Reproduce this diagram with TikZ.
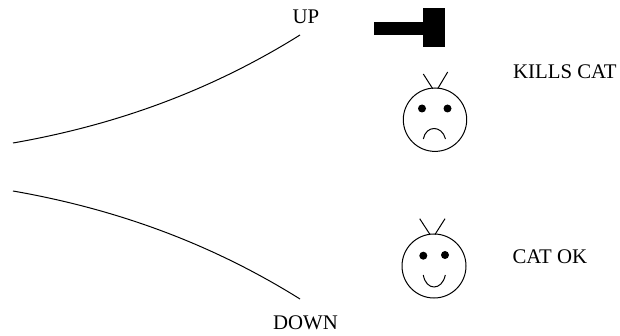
\documentclass[tikz,border=0pt]{standalone}
\usepackage{fontspec}
\setmainfont{Liberation Serif}
\begin{document}
\begin{tikzpicture}[x=1pt,y=-1pt,
  lab/.style={inner sep=0pt,font=\fontsize{20.8}{24}\selectfont},
  ln/.style={line width=1pt,draw=black},
  eye/.style={fill=black,draw=none}]
\useasboundingbox (0,0) rectangle (620,336);
\node[lab] (up) at (306,17) {UP};
\node[lab] (down) at (305.5,322.3) {DOWN};
\node[lab,anchor=west] (kills) at (513,71.7) {KILLS CAT};
\node[lab,anchor=west] (ok) at (512.3,256.7) {CAT OK};
\coordinate (u0) at (13,143);
\coordinate (u1) at (300,35);
\coordinate (d0) at (13,191);
\coordinate (d1) at (300,299);
\draw[ln] (u0) .. controls (108,126.4) and (205,94.4) .. (u1);
\draw[ln] (d0) .. controls (108,207.6) and (205,239.6) .. (d1);
\fill (373.5,22) rectangle (423,35.5);
\fill (423,8) rectangle (444.5,47.5);
% sad
\draw[ln] (435,119.7) circle (31.7);
\fill[eye] (422,108.5) circle (4);
\fill[eye] (447.5,108.5) circle (4);
\draw[ln] (423.3,139) .. controls (426,125) and (442,125) .. (445.5,139);
\draw[ln] (423.3,74) -- (432.7,88.7);
\draw[ln] (447.7,72) -- (437.7,88.7);
% happy
\draw[ln] (434,266) circle (32);
\fill[eye] (423.3,255.7) circle (4);
\fill[eye] (445,255) circle (4);
\draw[ln] (423.3,275) .. controls (426,291) and (442,291) .. (445.3,275);
\draw[ln] (419.7,218.7) -- (430,234.5);
\draw[ln] (445,218.7) -- (435,234.5);
\end{tikzpicture}
\end{document}
